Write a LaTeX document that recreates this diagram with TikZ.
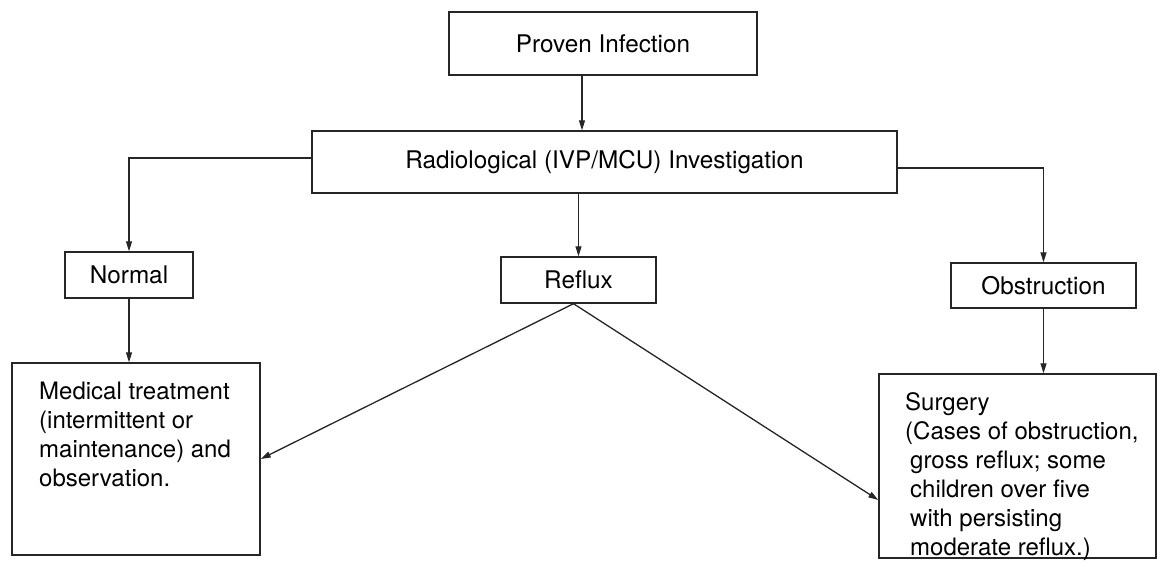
\documentclass[tikz,border=0pt]{standalone}
\usepackage{fontspec}
\setmainfont{TeX Gyre Heros}
\usetikzlibrary{arrows.meta}
\begin{document}
\begin{tikzpicture}[x=1pt,y=-1pt,
  box/.style={draw=black!85, line width=1.4pt, inner sep=0pt, font=\fontsize{24.3}{29}\selectfont},
  arr/.style={draw=black!85, line width=1.3pt, -{Triangle[length=10pt,width=6pt]}},
  lbl/.style={inner sep=0pt, align=left, anchor=north west, font=\fontsize{24}{29}\selectfont}]
\useasboundingbox (0,0) rectangle (1160,567);
\fill[white] (0,0) rectangle (1160,567);
\node[box, minimum width=308pt, minimum height=63pt] (prov) at (603,43.5) {Proven Infection};
\node[box, minimum width=585pt, minimum height=62pt] (rad) at (604.5,162) {Radiological (IVP/MCU) Investigation};
\node[box, minimum width=128pt, minimum height=46pt] (norm) at (129,275) {Normal};
\node[box, minimum width=155pt, minimum height=46pt] (refl) at (578.5,280) {Reflux};
\node[box, minimum width=185pt, minimum height=45pt] (obs) at (1043.5,285.5) {Obstruction};
\node[box, minimum width=248pt, minimum height=192pt] (med) at (136,459) {};
\node[box, minimum width=277pt, minimum height=184pt] (surg) at (1017.5,466) {};
\node[lbl] (medtxt) at (39,382) {Medical treatment\\(intermittent or\\maintenance) and\\observation.};
\node[lbl] (surgtxt) at (905,392) {Surgery\\(Cases of obstruction,\\\hspace{5pt}gross reflux; some\\\hspace{5pt}children over five\\\hspace{5pt}with persisting\\\hspace{5pt}moderate reflux.)};
\coordinate (p1) at ([xshift=-21pt]prov.south);
\draw[arr] (p1) -- (p1 |- rad.north);
\draw[arr] ([yshift=4pt]rad.west) -| (norm.north);
\draw[arr] (rad.south -| refl.north) -- (refl.north);
\draw[arr] ([yshift=-6pt]rad.east) -| (obs.north);
\draw[arr] (norm.south) -- (norm.south |- med.north);
\draw[arr] (obs.south) -- (obs.south |- surg.north);
\coordinate (apex) at ([xshift=-5pt]refl.south);
\draw[arr] (apex) -- (med.east);
\draw[arr] (apex) -- ([yshift=-34pt]surg.west);
\end{tikzpicture}
\end{document}
